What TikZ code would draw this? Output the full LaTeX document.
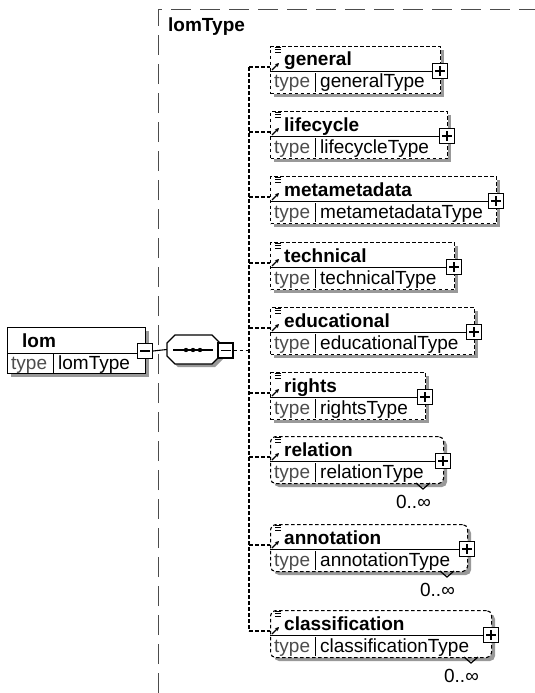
\documentclass[tikz,border=0pt]{standalone}
\usepackage{fontspec}
\setmainfont{Liberation Sans}
\usetikzlibrary{arrows.meta,calc}
\definecolor{shadowc}{gray}{0.6}
\definecolor{typec}{gray}{0.3}
\definecolor{contc}{gray}{0.3}
\begin{document}
\begin{tikzpicture}[x=1pt,y=-1pt,
  font=\fontsize{19}{21}\selectfont,
  elbox/.style={draw, dash pattern=on 3.5pt off 2.5pt, fill=white, inner sep=0pt,
    anchor=north west, line width=1.1pt},
  reqbox/.style={draw, fill=white, inner sep=0pt, anchor=north west, line width=1.2pt},
  pmbox/.style={draw, fill=white, minimum size=15pt, inner sep=0pt, line width=1.1pt},
  txt/.style={anchor=base west, inner sep=0pt},
  ttl/.style={anchor=base west, inner sep=0pt, font=\fontsize{19}{21}\selectfont\bfseries},
  typ/.style={anchor=base west, inner sep=0pt, text=typec},
  conn/.style={dash pattern=on 3.5pt off 2.5pt, line width=1.1pt},
  cont/.style={draw=contc, dash pattern=on 20pt off 9pt, line width=1pt},
  shd/.style={fill=shadowc}]
\useasboundingbox (0,0) rectangle (535,693);

% container lomType
\draw[cont] (158,693) -- (158,10) -- (535,10);
\node[ttl] (lt) at (168,32) {lomType};

% lom element
\fill[shd] (11,331) rectangle (149,377);
\node[reqbox, minimum width=138pt, minimum height=46pt] (lom) at (7,327) {};
\draw[line width=0.8pt] (7,353) -- (145,353);
\draw[line width=0.8pt] (53,353) -- (53,373);
\node[ttl] (lomt) at (22,347) {lom};
\node[typ] (lomk) at (11,369) {type};
\node[txt] (lomy) at (58,369) {lomType};
\node[pmbox] (lomm) at (145,351) {};
\draw[line width=1.1pt] ($(lomm.center)+(-5,0)$) -- ($(lomm.center)+(5,0)$);

% sequence compositor
\fill[shd] (178,338) -- (215,338) -- (223,346) -- (223,359) -- (215,367) -- (178,367) -- (170,359) -- (170,346) -- cycle;
\node[minimum width=53pt, minimum height=29pt, inner sep=0pt] (seq) at (193.5,349.5) {};
\draw[fill=white, line width=1.1pt] (175,335) -- (212,335) -- (220,343) -- (220,356) -- (212,364) -- (175,364) -- (167,356) -- (167,343) -- cycle;
\draw[line width=1.2pt] (173,350) -- (213,350);
\fill (186,350) circle (2.2pt) (193,350) circle (2.2pt) (200,350) circle (2.2pt);
\node[pmbox] (seqm) at (225.5,350.5) {};
\draw[line width=1.1pt] ($(seqm.center)+(-5,0)$) -- ($(seqm.center)+(5,0)$);

\draw[line width=1.1pt] (lomm.east) -- (seq.west);
\coordinate (bus) at (249,350.5);
\draw[conn] (seqm.east) -- (bus);

% child elements
\foreach \n/\ti/\ty/\tp/\r/\m in {
  general/general/generalType/46/440/0,
  lifecycle/lifecycle/lifecycleType/111/447/0,
  metametadata/metametadata/metametadataType/176/496/0,
  technical/technical/technicalType/242/454/0,
  educational/educational/educationalType/307/474/0,
  rights/rights/rightsType/372/425/0,
  relation/relation/relationType/436/443/1,
  annotation/annotation/annotationType/524/467/1,
  classification/classification/classificationType/610/491/1}{
  \pgfmathsetmacro\w{\r-270}
  \ifnum\m=1 \def\rc{5pt}\else\def\rc{0pt}\fi
  \fill[shd, rounded corners=\rc] (274,\tp+4) rectangle (\r+4,\tp+51);
  \node[elbox, rounded corners=\rc, minimum width=\w pt, minimum height=47pt] (\n) at (270,\tp) {};
  \draw[line width=0.8pt] (270,\tp+25) -- (\r,\tp+25);
  \draw[line width=0.8pt] (315,\tp+27) -- (315,\tp+46);
  \node[ttl] (t-\n) at (284,\tp+20) {\ti};
  \node[typ] (k-\n) at (274,\tp+42) {type};
  \node[txt] (y-\n) at (320,\tp+42) {\ty};
  \node[pmbox] (p-\n) at (\r,\tp+25) {};
  \draw[line width=1.1pt] ($(p-\n.center)+(-5,0)$) -- ($(p-\n.center)+(5,0)$)
                          ($(p-\n.center)+(0,-5)$) -- ($(p-\n.center)+(0,5)$);
  % icons
  \draw[line width=0.8pt] (275,\tp+1) -- (281,\tp+1) (275,\tp+3.5) -- (281,\tp+3.5) (275,\tp+6) -- (281,\tp+6);
  \draw[line width=1.1pt, -{Stealth[length=4pt,width=4pt]}] (272,\tp+24) -- (279,\tp+17);
  % connector
  \coordinate (b-\n) at (249,\tp+21);
  \draw[conn] (b-\n) -- (b-\n -| \n.west);
  \ifnum\m=1
    \draw[line width=1.2pt] (\r-27,\tp+47) -- (\r-20,\tp+53) -- (\r-13,\tp+47);
    \node[anchor=base east, inner sep=0pt] (m-\n) at (\r-12,\tp+72) {0..∞};
  \fi
}
\draw[conn] (b-general) -- (b-classification);
\end{tikzpicture}
\end{document}
